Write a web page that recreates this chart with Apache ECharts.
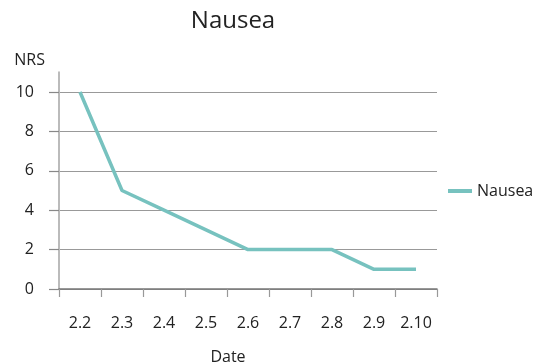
<!DOCTYPE html>
<html><head><meta charset="utf-8">
<script src="https://cdn.jsdelivr.net/npm/echarts@6/dist/echarts.min.js"></script>
<style>html,body{margin:0;padding:0;background:#fff}#c{width:543px;height:364px}</style>
</head><body><div id="c"></div>
<script>
const categories = ['2.2','2.3','2.4','2.5','2.6','2.7','2.8','2.9','2.10'];
const nausea = [10, 5, 4, 3, 2, 2, 2, 1, 1];
const yTicks = [0, 2, 4, 6, 8, 10];
const FONT = '"Open Sans", "Noto Sans", sans-serif';
const chart = echarts.init(document.getElementById('c'));
chart.setOption({
  animation: false,
  textStyle: { fontFamily: FONT },
  title: { text: 'Nausea', left: 228, top: 4, textAlign: 'center',
    textStyle: { fontSize: 24, fontWeight: 'normal', color: '#222', fontFamily: FONT } },
  legend: { left: 443, top: 178, itemWidth: 24, itemHeight: 4, icon: 'rect', itemGap: 8,
    textStyle: { fontSize: 16, color: '#222', fontFamily: FONT }, data: ['Nausea'] },
  grid: { left: 59, right: 106, top: 72.3, bottom: 75, containLabel: false, outerBoundsMode: 'none' },
  xAxis: {
    type: 'category', data: categories, boundaryGap: true,
    name: 'Date', nameLocation: 'middle', nameGap: 60,
    nameTextStyle: { fontSize: 16, color: '#222', fontFamily: FONT, padding: [0, 40, 0, 0] },
    axisLine: { lineStyle: { color: '#777', width: 1.5 } },
    axisTick: { show: true, length: 8, alignWithLabel: false, lineStyle: { color: '#999', width: 1.2 } },
    axisLabel: { fontSize: 16, color: '#222', margin: 26, fontFamily: FONT },
    splitLine: { show: false }
  },
  yAxis: {
    type: 'value', min: 0, max: 11, interval: 2,
    name: 'NRS', nameLocation: 'end', nameGap: 4,
    nameTextStyle: { fontSize: 16, color: '#222', align: 'right', padding: [0, 14, 0, 0], fontFamily: FONT },
    axisLine: { show: true, lineStyle: { color: '#bbb', width: 2 } },
    axisTick: { show: true, length: 10, customValues: yTicks, lineStyle: { color: '#888', width: 1.2 } },
    axisLabel: { fontSize: 16, color: '#222', margin: 25, customValues: yTicks, fontFamily: FONT },
    splitLine: { show: true, showMaxLine: true, lineStyle: { color: '#999', width: 1.2 } }
  },
  series: [{
    name: 'Nausea', type: 'line', data: nausea, symbol: 'none',
    lineStyle: { color: '#77c2bf', width: 3.5 }, itemStyle: { color: '#77c2bf' }
  }]
});
</script></body></html>
